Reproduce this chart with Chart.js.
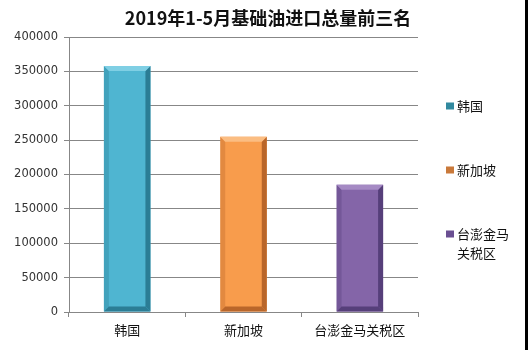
<!DOCTYPE html>
<html>
<head>
<meta charset="utf-8">
<script src="https://cdn.jsdelivr.net/npm/chart.js@4"></script>
<style>
html,body{margin:0;padding:0;background:#fff;}
#wrap{position:relative;width:528px;height:355px;}
#edge{position:absolute;left:525px;top:0;width:3px;height:350px;background:#000;}
</style>
</head>
<body>
<div id="wrap">
<canvas id="c" width="528" height="355"></canvas>
<div id="edge"></div>
</div>
<script>
const TITLE = "2019年1-5月基础油进口总量前三名";
const categories = ["韩国", "新加坡", "台澎金马关税区"];
const values = [358000, 255000, 185000];
const yTicks = [0, 50000, 100000, 150000, 200000, 250000, 300000, 350000, 400000];
const faceColors = ["#4fb5d1", "#f89c4c", "#8465a8"];
const lightColors = ["#7fcfe4", "#fbbd82", "#a58ac4"];
const darkColors = ["#2b7d95", "#b9662a", "#563f7a"];
const legendSwatch = ["#31899f", "#c9793a", "#6a4f92"];

const CJK = '"Noto Sans CJK SC", "DejaVu Sans", sans-serif';

const titlePlugin = {
  id: 'titleDraw',
  afterDraw(chart) {
    const ctx = chart.ctx;
    ctx.save();
    ctx.font = 'bold 18px ' + CJK;
    ctx.fillStyle = '#111';
    ctx.textAlign = 'center';
    ctx.textBaseline = 'middle';
    ctx.fillText(TITLE, 268, 18);
    ctx.restore();
  }
};

const bevelPlugin = {
  id: 'bevel',
  afterDatasetsDraw(chart) {
    const ctx = chart.ctx;
    const meta = chart.getDatasetMeta(0);
    ctx.save();
    meta.data.forEach((el, i) => {
      const p = el.getProps(['x', 'y', 'base', 'width'], true);
      const l = p.x - p.width / 2, r = p.x + p.width / 2, t = p.y, b = p.base;
      const d = 5;
      ctx.fillStyle = darkColors[i]; ctx.globalAlpha = 0.35;
      ctx.beginPath(); ctx.moveTo(l, t); ctx.lineTo(l + d, t + d); ctx.lineTo(l + d, b - d); ctx.lineTo(l, b); ctx.closePath(); ctx.fill();
      ctx.globalAlpha = 1;
      ctx.beginPath(); ctx.moveTo(r, t); ctx.lineTo(r - d, t + d); ctx.lineTo(r - d, b - d); ctx.lineTo(r, b); ctx.closePath(); ctx.fill();
      ctx.beginPath(); ctx.moveTo(l, b); ctx.lineTo(l + d, b - d); ctx.lineTo(r - d, b - d); ctx.lineTo(r, b); ctx.closePath(); ctx.fill();
      ctx.fillStyle = lightColors[i];
      ctx.beginPath(); ctx.moveTo(l, t); ctx.lineTo(r, t); ctx.lineTo(r - d, t + d); ctx.lineTo(l + d, t + d); ctx.closePath(); ctx.fill();
    });
    ctx.restore();
  }
};

function wrapText(ctx, text, maxW) {
  const lines = [];
  let cur = '';
  for (const ch of text) {
    if (ctx.measureText(cur + ch).width > maxW && cur) { lines.push(cur); cur = ch; }
    else cur += ch;
  }
  if (cur) lines.push(cur);
  return lines;
}

const legendPlugin = {
  id: 'legendDraw',
  afterDraw(chart) {
    const ctx = chart.ctx;
    const labels = chart.data.labels;
    const x0 = 446, tx = 457;
    const rowYs = [106, 170, 234];
    ctx.save();
    ctx.font = '13px ' + CJK;
    ctx.textBaseline = 'middle';
    ctx.textAlign = 'left';
    labels.forEach((lab, i) => {
      const y = rowYs[i];
      ctx.fillStyle = legendSwatch[i];
      ctx.fillRect(x0, y - 3.5, 8, 7);
      ctx.fillStyle = '#111';
      const lines = wrapText(ctx, lab, 56);
      lines.forEach((ln, k) => ctx.fillText(ln, tx, y + k * 19));
    });
    ctx.restore();
  }
};

new Chart(document.getElementById('c'), {
  type: 'bar',
  data: {
    labels: categories,
    datasets: [{
      data: values,
      backgroundColor: faceColors,
      borderWidth: 0,
      barPercentage: 0.4,
      categoryPercentage: 1
    }]
  },
  options: {
    responsive: false,
    animation: false,
    events: [],
    layout: { padding: { left: 0, top: 37, right: 110, bottom: 0 } },
    plugins: { legend: { display: false }, title: { display: false }, tooltip: { enabled: false } },
    scales: {
      y: {
        min: 0, max: 400000,
        afterFit(s) { s.width = 69; },
        afterBuildTicks(s) { s.ticks = yTicks.map(v => ({ value: v })); },
        grid: { color: '#878787', lineWidth: 1, tickLength: 5, drawTicks: true },
        border: { color: '#878787', width: 1 },
        ticks: { color: '#333', padding: 6, callback: v => String(v), font: { family: '"DejaVu Sans", sans-serif', size: 11.5 } }
      },
      x: {
        afterFit(s) { s.height = 43; },
        grid: { drawOnChartArea: false, drawTicks: true, tickLength: 5, color: '#878787', offset: true },
        border: { color: '#878787', width: 1 },
        ticks: { color: '#111', padding: 5, font: { family: CJK, size: 13 } }
      }
    }
  },
  plugins: [bevelPlugin, titlePlugin, legendPlugin]
});
</script>
</body>
</html>
